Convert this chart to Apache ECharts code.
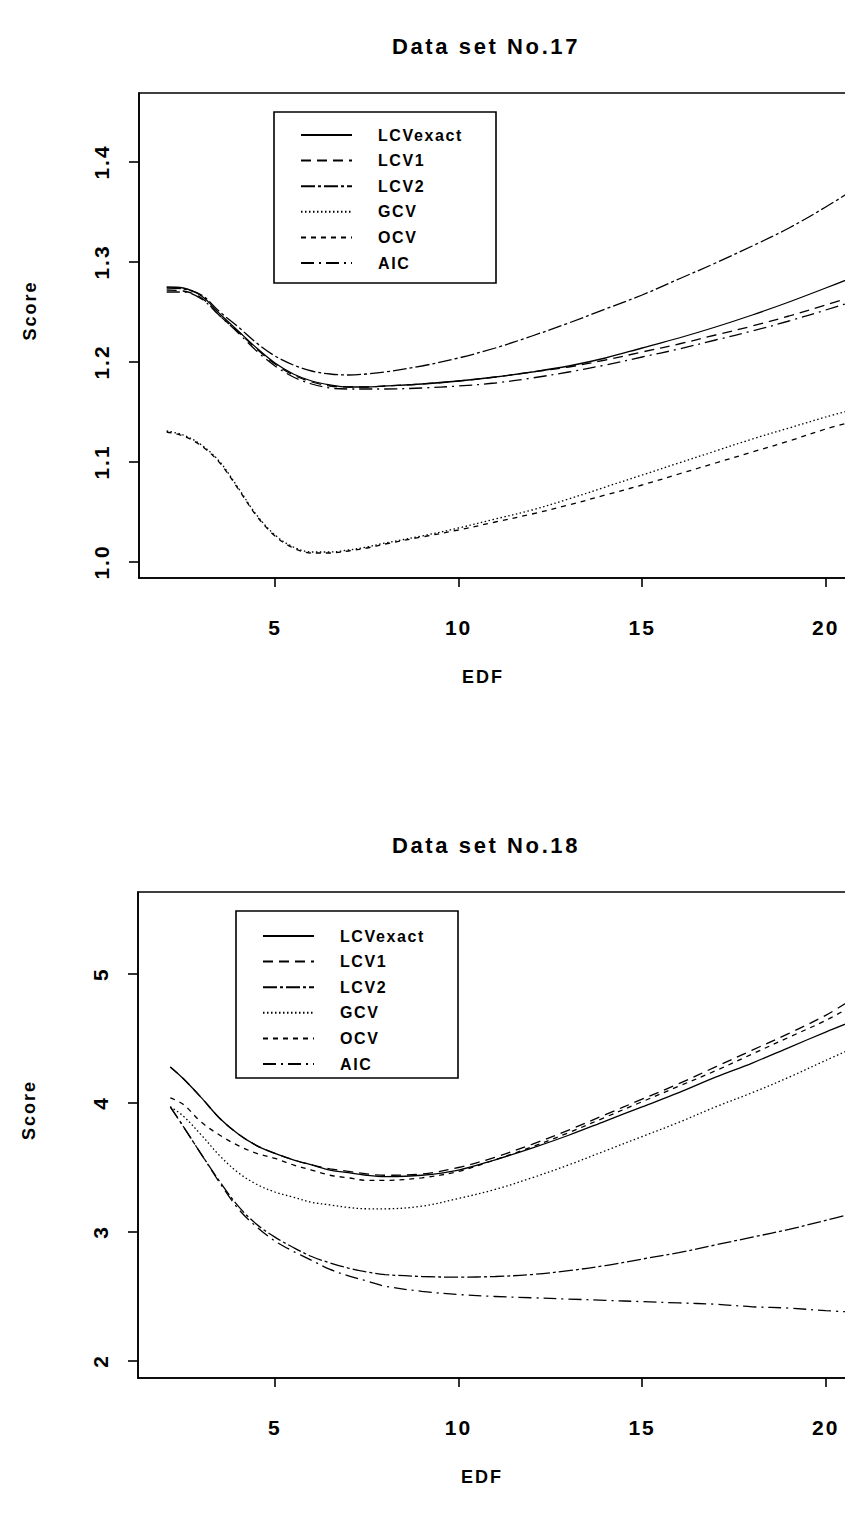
<!DOCTYPE html>
<html><head><meta charset="utf-8">
<script src="https://cdn.jsdelivr.net/npm/echarts@6/dist/echarts.min.js"></script>
<style>
html,body{margin:0;padding:0;background:#fff;}
#c{width:845px;height:1513px;letter-spacing:1.5px;}
#c text[style*="22px"]{letter-spacing:2.6px;}
#c text[style*="21px"]{letter-spacing:2px;}
#c text[style*="16px"]{letter-spacing:1.6px;}
#c text[style*="18px"]{letter-spacing:2px;}
</style></head><body><div id="c"></div>
<script>
// ---------- data ----------
const seriesNames = ['LCVexact', 'LCV1', 'LCV2', 'GCV', 'OCV', 'AIC'];
const xTicks = [5, 10, 15, 20];
const yTicks17 = [1.0, 1.1, 1.2, 1.3, 1.4];
const yTicks18 = [2, 3, 4, 5];

const edf17 = [2.05, 2.5, 3, 3.5, 4, 4.5, 5, 5.5, 6, 6.5, 7, 7.5, 8, 9, 10, 11, 12, 13, 14, 15, 16, 17, 18, 19, 20, 20.7];
const lcvExact17 = [1.275, 1.274, 1.266, 1.248, 1.231, 1.214, 1.199, 1.188, 1.181, 1.177, 1.175, 1.175, 1.176, 1.178, 1.181, 1.185, 1.190, 1.196, 1.204, 1.214, 1.224, 1.235, 1.247, 1.260, 1.274, 1.284];
const lcv1_17 = [1.272, 1.271, 1.264, 1.246, 1.230, 1.213, 1.198, 1.187, 1.180, 1.176, 1.175, 1.175, 1.176, 1.178, 1.181, 1.185, 1.190, 1.195, 1.202, 1.210, 1.218, 1.227, 1.236, 1.246, 1.257, 1.265];
const lcv2_17 = [1.274, 1.273, 1.267, 1.250, 1.235, 1.219, 1.206, 1.197, 1.191, 1.188, 1.187, 1.188, 1.190, 1.196, 1.204, 1.214, 1.226, 1.239, 1.253, 1.267, 1.283, 1.299, 1.316, 1.334, 1.355, 1.371];
const gcv17 = [1.131, 1.127, 1.117, 1.100, 1.074, 1.047, 1.027, 1.015, 1.010, 1.010, 1.012, 1.015, 1.019, 1.026, 1.034, 1.043, 1.052, 1.063, 1.075, 1.087, 1.099, 1.111, 1.123, 1.134, 1.145, 1.152];
const ocv17 = [1.130, 1.126, 1.116, 1.099, 1.073, 1.046, 1.026, 1.014, 1.009, 1.009, 1.011, 1.014, 1.018, 1.025, 1.032, 1.040, 1.048, 1.057, 1.067, 1.077, 1.088, 1.099, 1.110, 1.121, 1.133, 1.140];
const aic17 = [1.270, 1.270, 1.263, 1.246, 1.229, 1.211, 1.196, 1.185, 1.178, 1.174, 1.173, 1.173, 1.173, 1.174, 1.176, 1.179, 1.184, 1.190, 1.197, 1.205, 1.213, 1.222, 1.231, 1.241, 1.252, 1.260];

const edf18 = [2.15, 2.5, 3, 3.5, 4, 4.5, 5, 5.5, 6, 6.5, 7, 7.5, 8, 9, 10, 11, 12, 13, 14, 15, 16, 17, 18, 19, 20, 20.7];
const lcvExact18 = [4.28, 4.19, 4.04, 3.88, 3.76, 3.67, 3.61, 3.56, 3.52, 3.48, 3.46, 3.44, 3.43, 3.44, 3.48, 3.56, 3.65, 3.75, 3.86, 3.97, 4.08, 4.20, 4.31, 4.43, 4.55, 4.63];
const lcv1_18 = [4.28, 4.19, 4.04, 3.88, 3.76, 3.67, 3.61, 3.56, 3.52, 3.49, 3.47, 3.45, 3.44, 3.45, 3.50, 3.58, 3.68, 3.79, 3.91, 4.03, 4.15, 4.28, 4.41, 4.54, 4.68, 4.80];
const lcv2_18 = [3.97, 3.82, 3.60, 3.39, 3.20, 3.06, 2.96, 2.88, 2.81, 2.76, 2.72, 2.69, 2.67, 2.655, 2.65, 2.655, 2.67, 2.70, 2.74, 2.79, 2.84, 2.90, 2.96, 3.02, 3.09, 3.14];
const gcv18 = [3.97, 3.90, 3.75, 3.59, 3.46, 3.37, 3.31, 3.27, 3.23, 3.21, 3.19, 3.18, 3.18, 3.20, 3.26, 3.33, 3.42, 3.52, 3.63, 3.74, 3.85, 3.97, 4.08, 4.20, 4.33, 4.42];
const ocv18 = [4.04, 3.99, 3.85, 3.75, 3.67, 3.61, 3.57, 3.52, 3.48, 3.44, 3.42, 3.40, 3.40, 3.42, 3.47, 3.56, 3.66, 3.77, 3.89, 4.01, 4.13, 4.25, 4.38, 4.51, 4.64, 4.75];
const aic18 = [3.97, 3.82, 3.60, 3.38, 3.18, 3.04, 2.93, 2.85, 2.78, 2.71, 2.66, 2.62, 2.58, 2.54, 2.515, 2.50, 2.49, 2.48, 2.47, 2.46, 2.45, 2.44, 2.42, 2.41, 2.39, 2.38];

// ---------- styling ----------
const FONT = '"Liberation Sans", Arial, sans-serif';
const dashes = {
  LCVexact: 'solid',
  LCV1: [10, 6],
  LCV2: [14, 3, 3, 3],
  GCV: [1.5, 2.5],
  OCV: [5, 5],
  AIC: [13, 5, 2, 5]
};
const panels = [
  { x: edf17, ys: [lcvExact17, lcv1_17, lcv2_17, gcv17, ocv17, aic17] },
  { x: edf18, ys: [lcvExact18, lcv1_18, lcv2_18, gcv18, ocv18, aic18] }
];

const series = [];
panels.forEach((p, pi) => {
  seriesNames.forEach((name, si) => {
    series.push({
      name: name,
      type: 'line',
      xAxisIndex: pi,
      yAxisIndex: pi,
      data: p.x.map((x, i) => [x, p.ys[si][i]]),
      symbol: 'none',
      showSymbol: false,
      smooth: 0.35,
      silent: true,
      clip: true,
      itemStyle: { color: '#000' },
      lineStyle: { color: '#000', width: 1.3, type: dashes[name] }
    });
  });
});

function xAxisCfg(grid, min, max) {
  return {
    gridIndex: grid, type: 'value', min: min, max: max,
    axisLine: { show: true, lineStyle: { color: '#000', width: 1.6 } },
    axisTick: { show: true, customValues: xTicks, length: 9, inside: false, lineStyle: { color: '#000', width: 1.6 } },
    axisLabel: { customValues: xTicks, margin: 39, color: '#000', fontSize: 21, fontWeight: 'bold', fontFamily: FONT },
    splitLine: { show: false },
    name: 'EDF', nameLocation: 'middle', nameGap: 90,
    nameTextStyle: { color: '#000', fontSize: 18, fontWeight: 'bold', fontFamily: FONT, padding: [0, 72, 0, 0] }
  };
}
function yAxisCfg(grid, min, max, ticks, dec) {
  return {
    gridIndex: grid, type: 'value', min: min, max: max,
    axisLine: { show: true, lineStyle: { color: '#000', width: 1.6 } },
    axisTick: { show: true, customValues: ticks, length: 10, inside: false, lineStyle: { color: '#000', width: 1.6 } },
    axisLabel: { customValues: ticks, rotate: 90, margin: 27, color: '#000', fontSize: 21, fontWeight: 'bold', fontFamily: FONT,
      formatter: v => Number(v).toFixed(dec) },
    splitLine: { show: false },
    name: 'Score', nameLocation: 'middle', nameGap: 100, nameRotate: 90,
    nameTextStyle: { color: '#000', fontSize: 18, fontWeight: 'bold', fontFamily: FONT, padding: [0, 0, 0, 50] }
  };
}
function legendCfg(left, top) {
  return {
    data: seriesNames, orient: 'vertical', left: left, top: top,
    itemWidth: 51, itemHeight: 14, itemGap: 9.6, padding: 0,
    selectedMode: false,
    itemStyle: { color: 'rgba(0,0,0,0)', borderWidth: 0, opacity: 0 },
    textStyle: { color: '#000', fontSize: 16, fontWeight: 'bold', fontFamily: FONT, padding: [0, 0, 0, 21] }
  };
}

const chart = echarts.init(document.getElementById('c'), null, { renderer: 'svg', width: 845, height: 1513 });
chart.setOption({
  animation: false,
  backgroundColor: '#fff',
  title: [
    { text: 'Data set No.17', left: 481, top: 30, textAlign: 'center',
      textStyle: { color: '#000', fontSize: 22, fontWeight: 'bold', fontFamily: FONT } },
    { text: 'Data set No.18', left: 481, top: 829, textAlign: 'center',
      textStyle: { color: '#000', fontSize: 22, fontWeight: 'bold', fontFamily: FONT } }
  ],
  grid: [
    { left: 139, top: 93, width: 760, height: 485, show: true, borderColor: '#000', borderWidth: 1.6, outerBoundsMode: 'none', containLabel: false },
    { left: 138, top: 892, width: 760, height: 486, show: true, borderColor: '#000', borderWidth: 1.6, outerBoundsMode: 'none', containLabel: false }
  ],
  xAxis: [xAxisCfg(0, 1.296, 21.996), xAxisCfg(1, 1.27, 21.97)],
  yAxis: [yAxisCfg(0, 0.984, 1.469, yTicks17, 1), yAxisCfg(1, 1.868, 5.636, yTicks18, 0)],
  legend: [legendCfg(300, 127), legendCfg(262, 928)],
  graphic: [
    { type: 'rect', shape: { x: 274, y: 112, width: 222, height: 171 }, style: { fill: 'none', stroke: '#000', lineWidth: 1.6 }, silent: true },
    { type: 'rect', shape: { x: 236, y: 911, width: 222, height: 167 }, style: { fill: 'none', stroke: '#000', lineWidth: 1.6 }, silent: true }
  ],
  series: series
});
</script></body></html>
